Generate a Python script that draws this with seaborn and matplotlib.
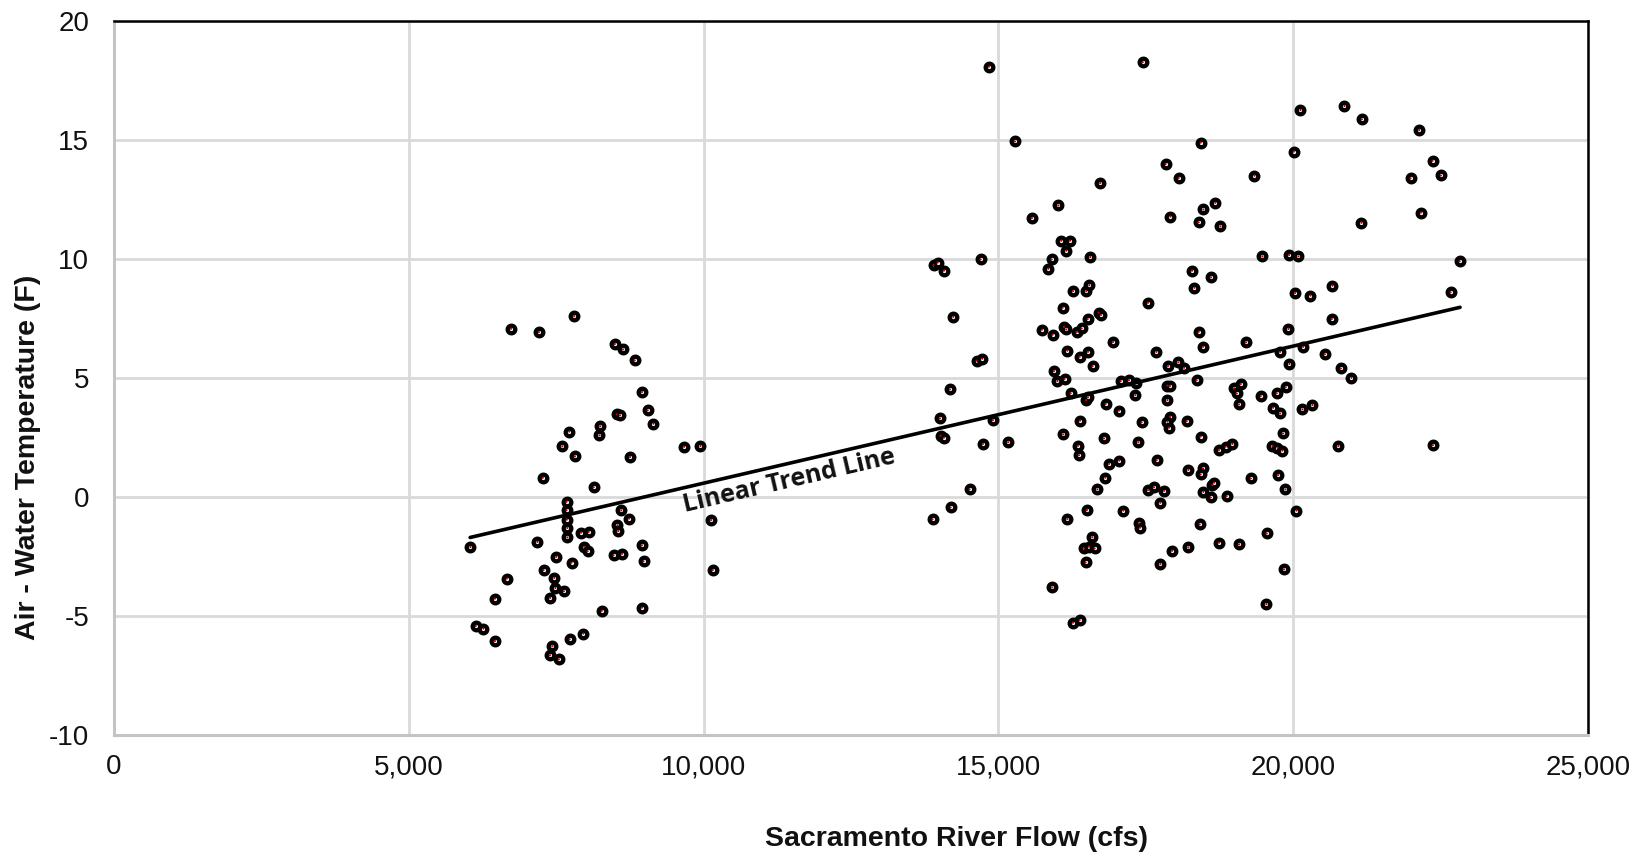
import numpy as np
import pandas as pd
import matplotlib
matplotlib.use("Agg")
import matplotlib.pyplot as plt
import seaborn as sns
from matplotlib.ticker import FuncFormatter

# ---------------- data ----------------
flow_low = [6734, 7208, 7805, 8494, 8636, 8831, 8955, 9052, 9149, 8526, 8584,
            8247, 8234, 7721, 7604, 7818, 8753, 9669, 9946, 7273, 8136,
            7675, 7675, 7680, 7690, 7690, 8604, 8734, 7922, 8052, 8539, 8552,
            6045, 7182, 7500, 7760, 7975, 8033, 8474, 8617, 8955, 8981,
            7286, 7468, 7487, 7630, 7396, 6662, 6461, 8273, 8955,
            6136, 6266, 6461, 7727, 7961, 7435, 7396, 7545, 10128, 10155]
temp_low = [7.07, 6.93, 7.60, 6.43, 6.20, 5.74, 4.41, 3.64, 3.08, 3.47, 3.43,
            2.97, 2.59, 2.75, 2.13, 1.71, 1.68, 2.11, 2.14, 0.81, 0.41,
            -0.20, -0.55, -0.95, -1.30, -1.70, -0.56, -0.91, -1.50, -1.47, -1.19, -1.43,
            -2.10, -1.89, -2.52, -2.76, -2.10, -2.28, -2.45, -2.39, -2.03, -2.70,
            -3.07, -3.40, -3.82, -3.96, -4.24, -3.43, -4.27, -4.78, -4.65,
            -5.42, -5.53, -6.05, -5.98, -5.74, -6.27, -6.65, -6.82, -0.97, -3.07]

flow_high = [14839, 17447, 20123, 20870, 21164, 15280, 18431, 20010, 17837, 18058,
             19342, 16728, 16016, 15569, 17917, 18477, 18681, 18397, 18765, 21158,
             16067, 16214, 16152, 15903, 15846, 16559, 13900, 13970, 14075, 14698,
             19478, 19930, 20089, 18284, 18607, 18324, 20032, 20292, 20666, 16265,
             16491, 16542, 17537, 14234, 16089, 16700, 16740, 16514, 15739, 15920,
             16112, 16152, 16327, 16412, 16944, 18397, 18471, 19201, 19920, 20655,
             17679, 16169, 16378, 16519, 16598, 19778, 20168, 20536, 19936, 20807,
             20988, 14630, 14726, 17877, 18052, 18149,
             15942, 16000, 16123, 14177, 16225, 16491, 16519, 16819, 17045, 17074,
             17215, 17328, 17323, 17430, 17866, 17911, 17866, 18363, 17911, 17866,
             17894, 18194, 18431, 18997, 19110, 19043, 19082, 19450, 19721, 19874,
             19659, 19778, 20157, 20327, 19829, 19648, 19732, 19817, 20767, 19744,
             19868, 20055, 18742, 18855, 18968, 19280, 18872, 18222, 18471, 18431,
             18629, 18657, 18477, 18601, 18414, 18742, 19082, 19551, 19845, 19546,
             18222, 17945, 17747, 17685, 17537, 17639, 17809, 17747, 17373, 17379,
             17402, 17119, 16791, 16876, 17051, 16813, 16678, 16502, 16169, 16593,
             16451, 16536, 16632, 16480, 15914, 16265, 16378, 16383, 16101, 16350,
             16366, 15167, 14737, 14511, 14189, 13883, 14008, 14019, 14075, 14907,
             22137, 22363, 21990, 22505, 22166, 22822, 22669, 22369]
temp_high = [18.08, 18.27, 16.26, 16.43, 15.87, 14.94, 14.89, 14.51, 13.99, 13.40,
             13.50, 13.19, 12.25, 11.72, 11.78, 12.08, 12.36, 11.54, 11.37, 11.52,
             10.77, 10.77, 10.35, 9.98, 9.59, 10.08, 9.75, 9.85, 9.51, 9.98,
             10.11, 10.17, 10.11, 9.51, 9.23, 8.79, 8.57, 8.46, 8.88, 8.65,
             8.65, 8.90, 8.16, 7.57, 7.95, 7.75, 7.65, 7.48, 7.03, 6.82,
             7.15, 7.04, 6.93, 7.08, 6.51, 6.94, 6.31, 6.50, 7.06, 7.48,
             6.10, 6.15, 5.89, 6.10, 5.50, 6.10, 6.31, 6.00, 5.59, 5.40,
             5.01, 5.73, 5.81, 5.50, 5.66, 5.43,
             5.29, 4.87, 4.96, 4.52, 4.36, 4.07, 4.19, 3.91, 3.63, 4.87,
             4.91, 4.78, 4.28, 3.14, 4.68, 4.66, 4.07, 4.91, 3.37, 3.17,
             2.91, 3.19, 2.54, 4.57, 4.75, 4.35, 3.89, 4.24, 4.36, 4.61,
             3.75, 3.51, 3.68, 3.86, 2.67, 2.14, 2.07, 1.95, 2.14, 0.92,
             0.32, -0.57, 1.97, 2.11, 2.23, 0.78, 0.04, 1.14, 1.20, 0.95,
             0.50, 0.60, 0.22, -0.02, -1.15, -1.92, -1.99, -1.53, -3.04, -4.50,
             -2.12, -2.26, -2.82, 1.55, 0.29, 0.41, 0.26, -0.24, 2.30, -1.11,
             -1.29, -0.57, 2.46, 1.39, 1.53, 0.81, 0.32, -0.55, -0.93, -1.69,
             -2.16, -2.09, -2.16, -2.75, -3.80, -5.28, -5.17, 3.21, 2.63, 2.15,
             1.76, 2.30, 2.23, 0.32, -0.44, -0.94, 3.30, 2.58, 2.49, 3.23,
             15.42, 14.13, 13.39, 13.51, 11.95, 9.91, 8.60, 2.18]

trend_flow = [6040, 22830]
trend_temp = [-1.70, 7.97]
trend_label_flow = 11380
trend_label = "Linear Trend Line"

x_ticks = [0, 5000, 10000, 15000, 20000, 25000]
y_ticks = [-10, -5, 0, 5, 10, 15, 20]
x_label = "Sacramento River Flow (cfs)"
y_label = "Air - Water Temperature (F)"

# ---------------- styling ----------------
sns.set_theme(style="white")
plt.rcParams['font.family'] = ['Liberation Sans', 'DejaVu Sans']
plt.rcParams['axes.unicode_minus'] = False

W, H = 1651, 857
fig = plt.figure(figsize=(W / 100, H / 100), dpi=100)
fig.patch.set_facecolor('white')
ax = fig.add_axes([114 / W, 1 - 735 / H, 1474 / W, 714 / H])

df = pd.DataFrame({'flow': flow_low + flow_high, 'temp': temp_low + temp_high})

ax.set_xlim(x_ticks[0], x_ticks[-1])
ax.set_ylim(y_ticks[0], y_ticks[-1])
ax.set_xticks(x_ticks)
ax.set_yticks(y_ticks)
ax.xaxis.set_major_formatter(FuncFormatter(lambda v, p: f"{int(v):,}"))

ax.grid(True, color='#d9d9d9', linewidth=2.0)
ax.set_axisbelow(True)

sns.scatterplot(data=df, x='flow', y='temp', ax=ax, s=30, marker='o',
                color='white', edgecolor='black', linewidth=3.1, zorder=3, legend=False)
sns.scatterplot(data=df, x='flow', y='temp', ax=ax, s=2.5, marker='o',
                color='#c00000', edgecolor='none', linewidth=0, zorder=4, legend=False)
sns.lineplot(x=trend_flow, y=trend_temp, ax=ax, color='black', linewidth=2.6,
             zorder=5, legend=False)

ax.set_xlim(x_ticks[0], x_ticks[-1])
ax.set_ylim(y_ticks[0], y_ticks[-1])

# trend label along the line
p1 = ax.transData.transform((trend_flow[0], trend_temp[0]))
p2 = ax.transData.transform((trend_flow[1], trend_temp[1]))
ang = np.degrees(np.arctan2(p2[1] - p1[1], p2[0] - p1[0]))
ly = float(np.interp(trend_label_flow, trend_flow, trend_temp))
off = 12.5
ax.annotate(trend_label, xy=(trend_label_flow, ly),
            xytext=(off * np.sin(np.radians(ang)), -off * np.cos(np.radians(ang))),
            textcoords='offset points', ha='center', va='center',
            rotation=ang, rotation_mode='anchor', fontsize=18,
            fontfamily=['Open Sans', 'DejaVu Sans'], fontweight='bold',
            color='#111111', zorder=6)

for side in ['left', 'bottom']:
    ax.spines[side].set_color('#c4c4c4')
    ax.spines[side].set_linewidth(2.2)
for side in ['top', 'right']:
    ax.spines[side].set_color('black')
    ax.spines[side].set_linewidth(1.8)

ax.tick_params(axis='both', length=0, labelsize=20, labelcolor='#111111')
ax.tick_params(axis='x', pad=14)
ax.tick_params(axis='y', pad=18)

ax.set_xlabel(x_label, fontsize=20.5, fontweight='bold', color='#111111')
ax.set_ylabel(y_label, fontsize=20.5, fontweight='bold', color='#111111')
ax.xaxis.set_label_coords((956 - 114) / 1474, -(839 - 735) / 714)
ax.xaxis.label.set_verticalalignment('center')
ax.xaxis.label.set_horizontalalignment('center')
ax.yaxis.set_label_coords((28 - 114) / 1474, (735 - 457) / 714)
ax.yaxis.label.set_verticalalignment('center')
ax.yaxis.label.set_horizontalalignment('center')

fig.savefig('out.png', dpi=100, facecolor='white')
